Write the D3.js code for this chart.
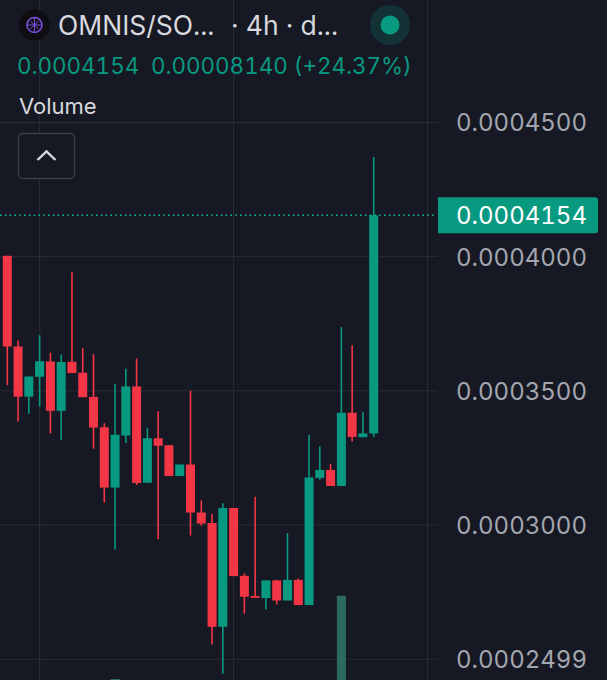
<!DOCTYPE html>
<html><head><meta charset="utf-8">
<script src="https://cdn.jsdelivr.net/npm/d3@7/dist/d3.min.js"></script>
<style>
html,body{margin:0;padding:0;background:#161823;overflow:hidden}
svg{display:block;font-family:Inter,"Noto Sans",sans-serif;font-feature-settings:"tnum" 1;font-variant-numeric:tabular-nums}
</style></head><body><svg id="c" width="607" height="680"></svg>
<script>
// prices in millionths (1e-6)
const opens  = [400.3,366.5,347.8,355.2,360.9,342.5,360.8,356.7,347.7,336.4,313.9,333.3,351.6,315.7,332.3,329.7,318.2,322.5,304.6,300.7,262,306.3,281,273.5,272.7,279.3,271.8,279.5,270.1,317.5,320.5,314.5,341.8,332.7,334.1];
const closes = [366.5,347.8,355.3,361,342.5,360.7,356.6,347.6,336.3,313.9,333.6,351.6,315.6,332.3,329.5,318.2,322.5,304.6,300.5,262,306.3,280.9,273.2,272.8,279.3,271.8,279.5,270.1,317.7,320.5,314.5,341.8,332.8,334.1,415.4];
const highs  = [400.3,368.7,355.3,370.7,364.2,363.5,394.2,365.9,363.6,337.9,352.5,358.2,362,336.1,342.4,329.7,322.5,350,309.1,304.1,308.1,306.3,281.9,310.5,279.3,279.5,296.9,280,333.6,329.2,322.8,373.7,367,342,437.1];
const lows   = [352.1,338.5,341.4,344.1,334.1,331.6,356.6,347.6,328.4,308.3,290.8,330.5,314.8,315.7,294.6,318.2,318.2,296,299.7,255.4,244.5,280.9,266.9,272.8,268.5,270.3,279.5,270.1,317.7,316.8,314.5,314.5,331.1,332.7,332.7];
const volumes= [0,0,0,0,0,0,0,0,0,0,3,0,0,0,0,0,0,0,0,0,0,0,0,0,0,0,0,0,0,0,0,240,0,0,0];
const tickValues = [450,400,350,300,249.9];
const tickLabels = ["0.0004500","0.0004000","0.0003500","0.0003000","0.0002499"];
const verticalGridIdx = [3,21,39];
const lastPrice = 415.4, lastLabel = "0.0004154";
const titleText = "OMNIS/SO...", intervalText = "· 4h · d...";
const legendValues = ["0.0004154","0.00008140 (+24.37%)"];
const paneLabel = "Volume";

const UP="#089981", DOWN="#f23645", BG="#161823", GRID="#2a2c37", TXT="#d8d9de", AXT="#a3a6af", VOL="#2a6b5d";
const svg=d3.select("#c");
svg.append("rect").attr("width",607).attr("height",680).attr("fill",BG);
const x=d3.scaleLinear().domain([0,34]).range([7.3,373.7]);
const y=d3.scaleLinear().domain([450,250]).range([122.5,659]);
const v=d3.scaleLinear().domain([0,240]).range([680,595.7]);

// grid
svg.append("g").selectAll("line").data(tickValues).join("line")
 .attr("x1",0).attr("x2",438).attr("y1",d=>y(d)).attr("y2",d=>y(d)).attr("stroke",GRID);
svg.append("g").selectAll("line").data(verticalGridIdx).join("line")
 .attr("x1",d=>x(d)).attr("x2",d=>x(d)).attr("y1",0).attr("y2",680).attr("stroke",GRID);

// volume
svg.append("g").selectAll("rect").data(volumes.map((d,i)=>({d,i})).filter(o=>o.d>0)).join("rect")
 .attr("x",o=>x(o.i)-4.5).attr("width",9).attr("y",o=>v(o.d)).attr("height",o=>680-v(o.d))
 .attr("fill",VOL);

// candles
const data=opens.map((o,i)=>({i,o,c:closes[i],h:highs[i],l:lows[i]}));
const g=svg.append("g");
g.selectAll("line").data(data).join("line")
 .attr("x1",d=>x(d.i)).attr("x2",d=>x(d.i)).attr("y1",d=>y(d.h)).attr("y2",d=>y(d.l))
 .attr("stroke",d=>d.c>=d.o?UP:DOWN).attr("stroke-width",1.6);
g.selectAll("rect").data(data).join("rect")
 .attr("x",d=>x(d.i)-4.5).attr("width",9)
 .attr("y",d=>y(Math.max(d.o,d.c))).attr("height",d=>Math.max(1.5,Math.abs(y(d.o)-y(d.c))))
 .attr("fill",d=>d.c>=d.o?UP:DOWN);

// last price line
svg.append("line").attr("x1",0).attr("x2",436).attr("y1",y(lastPrice)).attr("y2",y(lastPrice))
 .attr("stroke","#12b394").attr("stroke-width",1.6).attr("stroke-dasharray","1.6 3.2");

// axis
const axis=d3.axisRight(y).tickValues(tickValues).tickFormat((d,i)=>tickLabels[i]).tickSize(0).tickPadding(0);
const ag=svg.append("g").attr("transform","translate(456,0)").call(axis);
ag.select(".domain").remove();
ag.selectAll("text").attr("font-size",24).attr("fill",AXT).attr("font-family","Inter").attr("dy","0.35em");

// price label
const ly=y(lastPrice);
svg.append("path").attr("d",`M438,${ly-18}H595a3,3 0 0 1 3,3V${ly+15}a3,3 0 0 1 -3,3H438Z`).attr("fill",UP);
svg.append("text").attr("x",456).attr("y",ly+0.5).attr("dy","0.35em").attr("font-size",24).attr("fill","#fff").text(lastLabel);

// header
const logo=svg.append("g").attr("transform","translate(34.5,25)");
logo.append("circle").attr("r",15.5).attr("fill","#0d0d12");
logo.append("circle").attr("r",7.5).attr("fill","none").attr("stroke","#7c4fe0").attr("stroke-width",1.6);
logo.append("path").attr("d","M0,-7V7M-7,0H7M-4,-4L4,4M4,-4L-4,4").attr("stroke","#7c4fe0").attr("stroke-width",1);
svg.append("text").attr("x",58).attr("y",35).attr("font-size",26.5).attr("fill",TXT).text(titleText);
svg.append("text").attr("x",231).attr("y",35).attr("font-size",26.5).attr("fill",TXT).text(intervalText);
svg.append("circle").attr("cx",390).attr("cy",25).attr("r",20).attr("fill",UP).attr("opacity",.2);
svg.append("circle").attr("cx",390).attr("cy",25).attr("r",9.5).attr("fill",UP);
svg.append("text").attr("x",17).attr("y",74).attr("font-size",22.4).attr("fill",UP).text(legendValues[0]);
svg.append("text").attr("x",151).attr("y",74).attr("font-size",22.4).attr("fill",UP).text(legendValues[1]);
svg.append("text").attr("x",19).attr("y",114).attr("font-size",22).attr("fill",TXT).text(paneLabel);

// collapse button
svg.append("rect").attr("x",18.5).attr("y",133.5).attr("width",56).attr("height",45).attr("rx",4)
 .attr("fill",BG).attr("stroke","#3b3d49").attr("stroke-width",1.3);
svg.append("path").attr("d","M37.5,160L46.5,151.5L55.5,160").attr("fill","none").attr("stroke","#d8d9de").attr("stroke-width",2.4);
</script></body></html>
